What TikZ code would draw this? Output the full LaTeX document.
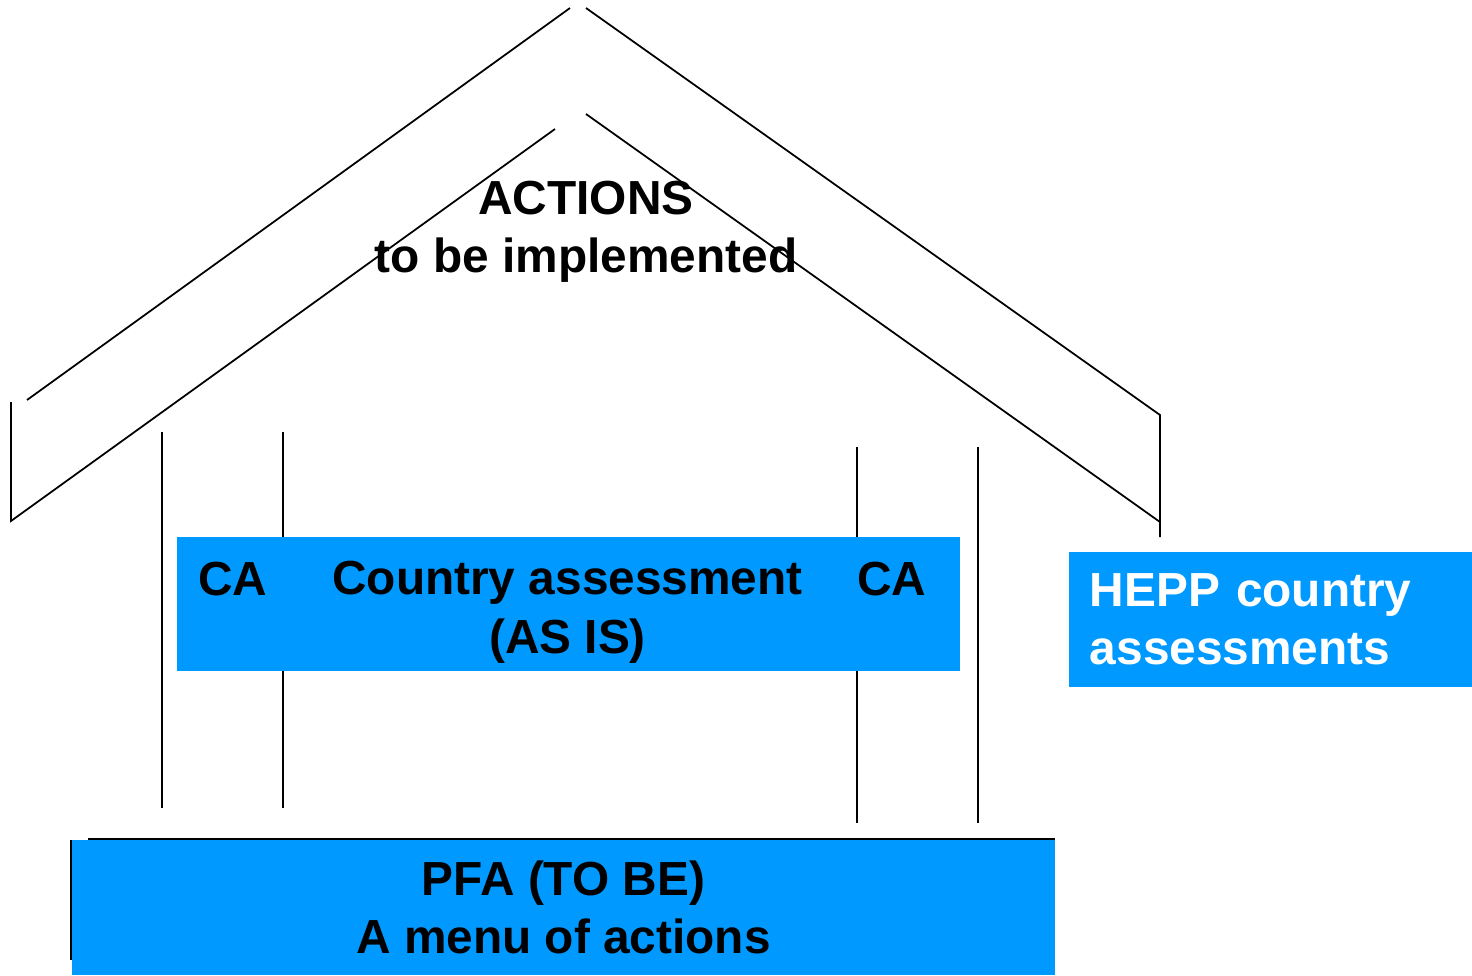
\documentclass[tikz,border=0pt]{standalone}
\usepackage{fontspec}
\setmainfont{Liberation Sans}
\usepackage{xcolor}
\usetikzlibrary{positioning}
\definecolor{SkyBlue}{HTML}{0099FF}

\begin{document}
\begin{tikzpicture}[
    x=0.01cm, y=-0.01cm,
    line width=0.5pt,
    box/.style={rectangle, fill=SkyBlue, inner sep=0pt, align=center,
                font=\fontsize{13.6}{16.5}\selectfont\bfseries},
    label/.style={inner sep=0pt, font=\fontsize{13.6}{16.5}\selectfont\bfseries}
]
    \useasboundingbox (0,0) rectangle (1472,975);

    % Roof
    \draw (27,400) -- (570,8);
    \draw (586,8) -- (1160,415) -- (1160,537);
    \draw (11,402) -- (11,521) -- (555,129);
    \draw (586,114) -- (1160,522);

    % Columns
    \draw (162,432) -- (162,808);
    \draw (283,432) -- (283,808);
    \draw (857,447) -- (857,823);
    \draw (978,447) -- (978,823);

    % Roof text
    \node[label, align=center] (actions) at (586,232)
        {ACTIONS\\to be implemented};

    % Country assessment
    \node[box, minimum width=7.83cm, minimum height=1.34cm] (ca) at (568.5,604) {};
    \node[label, align=center, anchor=base] (catext) at (567.5,653)
        {Country assessment\\(AS IS)};
    \node[label, anchor=base] (caleft) at (233,595) {CA};
    \node[label, anchor=base] (caright) at (892,595) {CA};

    % HEPP country assessments
    \node[box, text=white, align=left, text width=3.61cm, inner xsep=0.21cm,
          minimum height=1.35cm] (hepp) at (1270.5,619.5)
        {HEPP country\\assessments};

    % PFA
    \node[box, minimum width=9.83cm, minimum height=1.35cm] (pfa) at (563.5,907.5)
        {PFA (TO BE)\\A menu of actions};
    \draw (88,839) -- (1055,839);
    \draw (71,840) -- (71,960);
\end{tikzpicture}
\end{document}
